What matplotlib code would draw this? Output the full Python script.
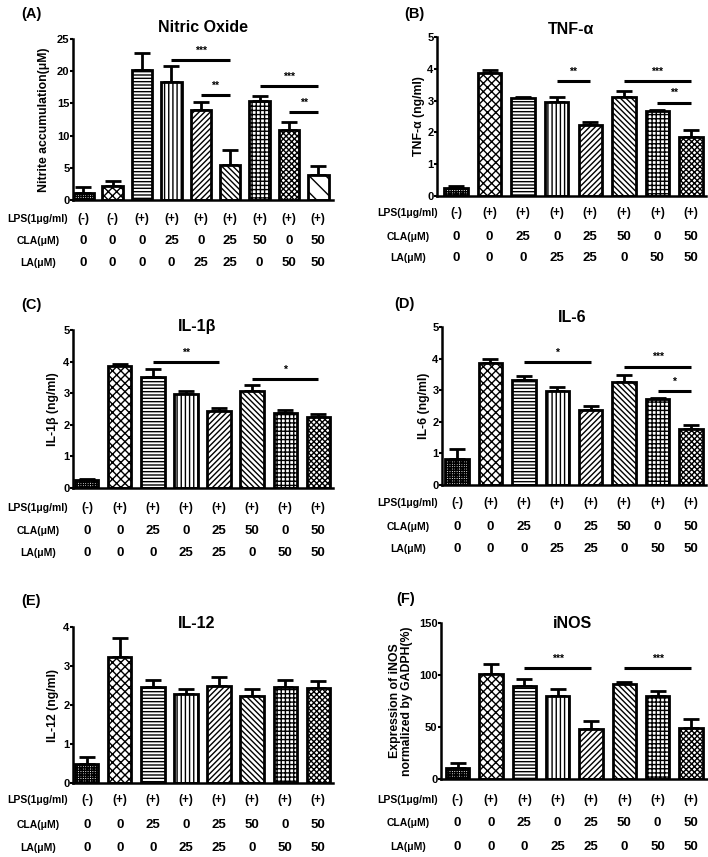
import matplotlib
matplotlib.use('Agg')
import matplotlib.pyplot as plt
from matplotlib import transforms

plt.rcParams['font.family'] = ['Liberation Sans', 'DejaVu Sans']
plt.rcParams['font.weight'] = 'bold'
plt.rcParams['hatch.linewidth'] = 1.0

W, H = 708, 857

# condition tables
no_lps = ['(-)', '(-)', '(+)', '(+)', '(+)', '(+)', '(+)', '(+)', '(+)']
no_cla = ['0', '0', '0', '25', '0', '25', '50', '0', '50']
no_la = ['0', '0', '0', '0', '25', '25', '0', '50', '50']

cyt_lps = ['(-)', '(+)', '(+)', '(+)', '(+)', '(+)', '(+)', '(+)']
cyt_cla = ['0', '0', '25', '0', '25', '50', '0', '50']
cyt_la = ['0', '0', '0', '25', '25', '0', '50', '50']

# values (mean, SEM)
no_mean = [1.1, 2.2, 20.2, 18.4, 13.9, 5.4, 15.4, 10.9, 3.9]
no_err = [0.9, 0.7, 2.6, 2.4, 1.3, 2.4, 0.7, 1.2, 1.4]

tnf_mean = [0.25, 3.87, 3.08, 2.97, 2.24, 3.12, 2.66, 1.87]
tnf_err = [0.05, 0.08, 0.04, 0.14, 0.10, 0.18, 0.05, 0.20]

il1b_mean = [0.26, 3.85, 3.50, 2.96, 2.43, 3.07, 2.36, 2.25]
il1b_err = [0.04, 0.08, 0.26, 0.12, 0.10, 0.18, 0.10, 0.09]

il6_mean = [0.83, 3.85, 3.33, 2.97, 2.38, 3.25, 2.71, 1.76]
il6_err = [0.30, 0.15, 0.12, 0.13, 0.13, 0.24, 0.05, 0.15]

il12_mean = [0.50, 3.23, 2.46, 2.27, 2.48, 2.23, 2.45, 2.44]
il12_err = [0.16, 0.48, 0.19, 0.14, 0.24, 0.17, 0.18, 0.18]

inos_mean = [11, 101, 89.5, 79.5, 48.5, 91.5, 80, 49]
inos_err = [4, 9.5, 6.5, 7.5, 7.5, 1.5, 5, 9]

# significance bars: (from, to, height, stars)
no_sig = [(3, 5, 21.7, '***'), (4, 5, 16.3, '**'), (6, 8, 17.7, '***'), (7, 8, 13.7, '**')]
tnf_sig = [(3, 4, 3.63, '**'), (5, 7, 3.62, '***'), (6, 7, 2.94, '**')]
il1b_sig = [(2, 4, 3.99, '**'), (5, 7, 3.44, '*')]
il6_sig = [(2, 4, 3.88, '*'), (5, 7, 3.75, '***'), (6, 7, 2.96, '*')]
inos_sig = [(2, 4, 106.7, '***'), (5, 7, 106.7, '***')]

no_hatch = ['+++++++', 'xxxx', '-----', '||||', '//////', '\\\\\\\\\\\\', '++++', 'xxxxxx', '\\\\']
cyt_hatch = ['+++++++', 'xxxx', '-----', '||||', '//////', '\\\\\\\\\\\\', '++++', 'xxxxxx']

fig = plt.figure(figsize=(W / 100, H / 100), dpi=100)


def fx(px):
    return px / W


def fy(py):
    return 1 - py / H


def panel(box, xlim, means, errs, hatches, ylim, yticks, ylabel, ylab_x,
          title, title_xy, letter, letter_xy, sig, lps, cla, la, rows_y, row_x):
    x0, y0, x1, y1 = box
    ax = fig.add_axes([fx(x0), fy(y1), (x1 - x0) / W, (y1 - y0) / H])
    xs = list(range(len(means)))
    ax.bar(xs, means, width=0.7, color='white', edgecolor='black',
           linewidth=2, hatch=hatches, zorder=2)
    ax.errorbar(xs, means, yerr=[[0] * len(errs), errs], fmt='none',
                ecolor='black', elinewidth=2, capsize=5.5, capthick=2, zorder=1)
    for i, j, h, s in sig:
        ax.plot([i, j], [h, h], color='black', lw=2.2, solid_capstyle='butt')
        ax.annotate(s, ((i + j) / 2, h), xytext=(0, 3), textcoords='offset points',
                    ha='center', va='bottom', fontsize=7.5, fontweight='bold')
    ax.set_xlim(*xlim)
    ax.set_ylim(*ylim)
    ax.set_yticks(yticks)
    ax.set_xticks([])
    ax.spines['top'].set_visible(False)
    ax.spines['right'].set_visible(False)
    ax.spines['left'].set_linewidth(1.8)
    ax.spines['bottom'].set_linewidth(1.8)
    ax.tick_params(axis='y', direction='out', length=2, width=1.5, pad=0.5,
                   labelsize=8)
    for t in ax.get_yticklabels():
        t.set_fontweight('bold')
    fig.text(fx(ylab_x), fy((y0 + y1) / 2), ylabel, rotation=90, ha='center',
             va='center', fontsize=8.8, fontweight='bold', multialignment='center',
             linespacing=1.0)
    fig.text(fx(title_xy[0]), fy(title_xy[1]), title, ha='center', va='center',
             fontsize=11.5, fontweight='bold')
    fig.text(fx(letter_xy[0]), fy(letter_xy[1]), letter, ha='left', va='center',
             fontsize=10.5, fontweight='bold')
    tr = transforms.blended_transform_factory(ax.transData, fig.transFigure)
    names = ['LPS(1\u03bcg/ml)', 'CLA(\u03bcM)', 'LA(\u03bcM)']
    for r, (name, vals) in enumerate(zip(names, [lps, cla, la])):
        fig.text(fx(row_x), fy(rows_y[r]), name, ha='center', va='center',
                 fontsize=7.5, fontweight='bold')
        for k, v in enumerate(vals):
            fig.text(k, fy(rows_y[r]), v, transform=tr, ha='center', va='center',
                     fontsize=8.5 if r == 0 else 9.5, fontweight='bold')
    return ax


panel((73, 39, 333, 200), (-0.35, 8.5), no_mean, no_err, no_hatch, (0, 25),
      [0, 5, 10, 15, 20, 25], 'Nitrite accumulation(\u03bcM)', 44,
      'Nitric Oxide', (203, 27), '(A)', (21, 14), no_sig,
      no_lps, no_cla, no_la, (219, 241, 263), 38)

panel((437, 37, 706, 196), (-0.57, 7.45), tnf_mean, tnf_err, cyt_hatch, (0, 5),
      [0, 1, 2, 3, 4, 5], 'TNF-\u03b1 (ng/ml)', 419,
      'TNF-\u03b1', (571, 30), '(B)', (404, 14), tnf_sig,
      cyt_lps, cyt_cla, cyt_la, (213, 237, 258), 408)

panel((73, 330, 333, 488), (-0.42, 7.45), il1b_mean, il1b_err, cyt_hatch, (0, 5),
      [0, 1, 2, 3, 4, 5], 'IL-1\u03b2 (ng/ml)', 53,
      'IL-1\u03b2', (197, 326), '(C)', (21, 305), il1b_sig,
      cyt_lps, cyt_cla, cyt_la, (508, 531, 553), 38)

panel((442, 327, 706, 485), (-0.45, 7.45), il6_mean, il6_err, cyt_hatch, (0, 5),
      [0, 1, 2, 3, 4, 5], 'IL-6 (ng/ml)', 424,
      'IL-6', (572, 318), '(D)', (394, 304), il6_sig,
      cyt_lps, cyt_cla, cyt_la, (503, 527, 549), 408)

panel((73, 627, 333, 783), (-0.42, 7.45), il12_mean, il12_err, cyt_hatch, (0, 4),
      [0, 1, 2, 3, 4], 'IL-12 (ng/ml)', 53,
      'IL-12', (197, 623), '(E)', (21, 601), [],
      cyt_lps, cyt_cla, cyt_la, (800, 825, 848), 38)

panel((441, 623, 707, 779), (-0.5, 7.48), inos_mean, inos_err, cyt_hatch, (0, 150),
      [0, 50, 100, 150], 'Expression of iNOS\nnormalized by GADPH(%)', 401,
      'iNOS', (572, 623), '(F)', (396, 599), inos_sig,
      cyt_lps, cyt_cla, cyt_la, (800, 823, 847), 408)

fig.savefig('out.png', dpi=100)
